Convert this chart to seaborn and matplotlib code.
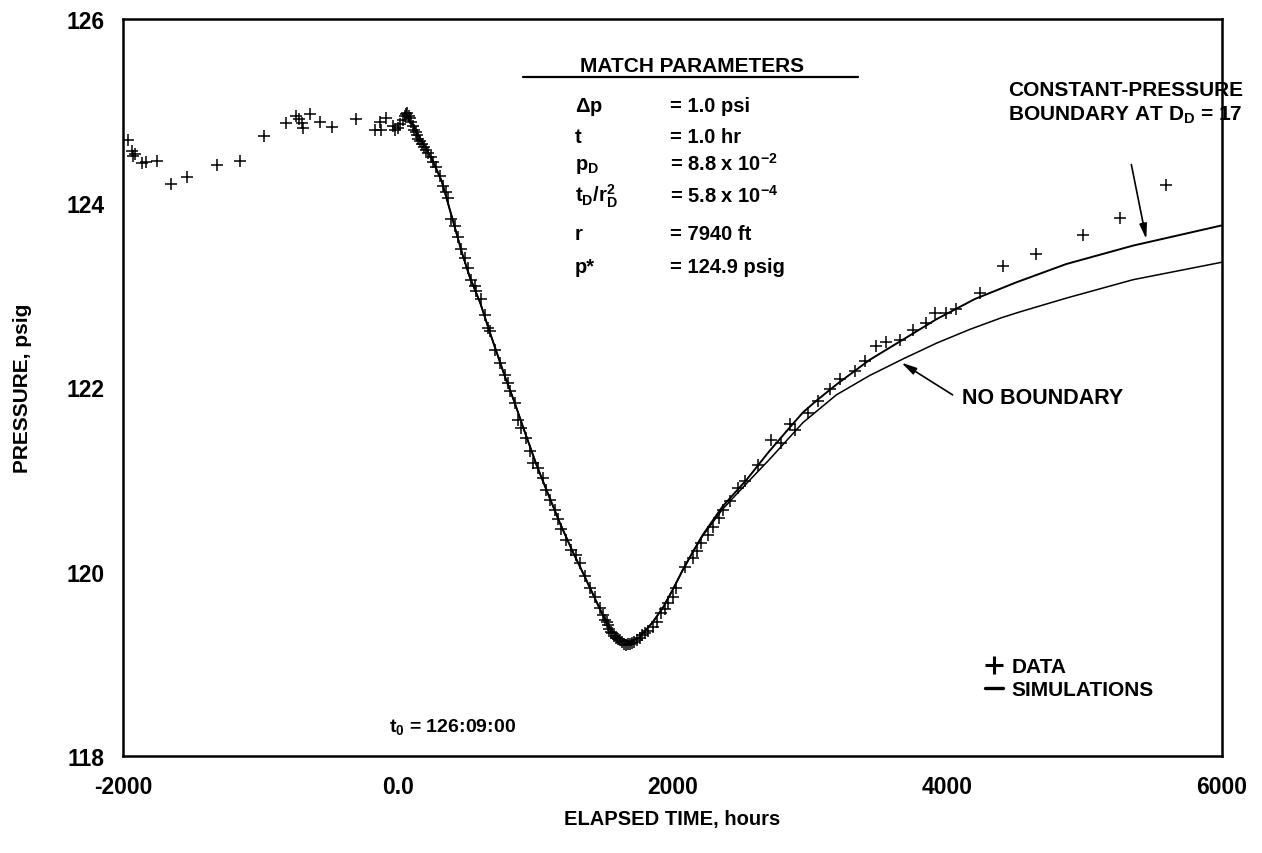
import numpy as np
import pandas as pd
import matplotlib
matplotlib.use("Agg")
import matplotlib.pyplot as plt
import seaborn as sns
from matplotlib.lines import Line2D

# ---------------- data ----------------
data_time = [
    -1967, -1938, -1926, -1914, -1865, -1834, -1756, -1654, -1533, -1315,
    -1145, -975, -810, -742, -721, -689, -695, -640, -563, -475,
    -301, -162, -131, -119, -82, -34, -22,
    5, 20, 35, 50, 60, 70, 80, 90, 100, 110, 120, 130, 140, 150, 160, 175,
    190, 205, 220, 245, 260, 282, 306, 330, 350, 366, 391, 415, 439, 463,
    488, 512, 536, 560, 573, 609, 633, 657, 670, 706, 742, 779, 803, 815,
    852, 876, 900, 937, 961, 985, 1021, 1058, 1082, 1106, 1143, 1167, 1191,
    1228, 1264, 1300, 1325, 1361, 1397, 1434, 1470, 1494,
    1510, 1520, 1530, 1540, 1550, 1560, 1575, 1590, 1600, 1615, 1630, 1645,
    1660, 1675, 1690, 1705, 1720, 1740, 1760, 1780, 1800, 1820,
    1857, 1890, 1919, 1945, 1968, 2000, 2029, 2089, 2150, 2180, 2210, 2260,
    2295, 2340, 2368, 2420, 2478, 2525, 2622, 2720, 2792, 2853, 2889, 2986,
    3059, 3144, 3217, 3326, 3399, 3484, 3556, 3654, 3750, 3848, 3908, 3993,
    4066, 4236, 4406, 4648, 4988, 5255, 5594,
]
data_pressure = [
    124.69, 124.57, 124.51, 124.54, 124.44, 124.45, 124.46, 124.21, 124.29, 124.42,
    124.46, 124.73, 124.87, 124.95, 124.91, 124.82, 124.87, 124.97, 124.88, 124.83,
    124.91, 124.79, 124.88, 124.79, 124.93, 124.84, 124.79,
    124.82, 124.86, 124.90, 124.95, 124.97, 124.98, 124.95, 124.92, 124.88, 124.84,
    124.80, 124.77, 124.74, 124.70, 124.68, 124.64,
    124.61, 124.58, 124.55, 124.50, 124.45, 124.39, 124.30, 124.19, 124.12, 124.06,
    123.83, 123.75, 123.63, 123.50,
    123.41, 123.30, 123.17, 123.10, 123.05, 122.96, 122.79, 122.65, 122.61, 122.41,
    122.27, 122.14, 122.05, 121.96,
    121.83, 121.65, 121.56, 121.45, 121.31, 121.18, 121.13, 121.02, 120.89, 120.78,
    120.67, 120.57, 120.46,
    120.35, 120.24, 120.18, 120.09, 119.95, 119.82, 119.73, 119.61, 119.53,
    119.48, 119.45, 119.42, 119.38, 119.35, 119.33, 119.30, 119.28, 119.27, 119.26,
    119.24, 119.22,
    119.21, 119.22, 119.22, 119.23, 119.24, 119.26, 119.28, 119.31, 119.33, 119.36,
    119.40, 119.45, 119.55, 119.60, 119.66, 119.73, 119.82, 120.05, 120.15, 120.22,
    120.31, 120.40,
    120.49, 120.58, 120.67, 120.77, 120.91, 120.98, 121.16, 121.43, 121.40, 121.60,
    121.54, 121.72,
    121.85, 121.98, 122.09, 122.18, 122.29, 122.45, 122.49, 122.52, 122.62, 122.70,
    122.81, 122.81,
    122.85, 123.03, 123.32, 123.45, 123.66, 123.84, 124.20,
]

# simulation with constant-pressure boundary at D_D = 17
boundary_time = [
    50, 110, 180, 255, 320, 400, 470, 524, 600, 670, 780, 850, 910, 1010,
    1090, 1180, 1270, 1360, 1470, 1545, 1615, 1690, 1760, 1855, 1930, 2000,
    2075, 2150, 2220, 2365, 2540, 2700, 2850, 2950, 3050, 3200, 3435, 3678,
    3920, 4200, 4500, 4866, 5352, 6000,
]
boundary_pressure = [
    124.98, 124.85, 124.66, 124.46, 124.24, 123.82, 123.45, 123.20, 122.92,
    122.60, 122.12, 121.84, 121.58, 121.16, 120.86, 120.53, 120.23, 119.95,
    119.60, 119.38, 119.28, 119.24, 119.29, 119.45, 119.61, 119.80, 120.02,
    120.22, 120.40, 120.71, 121.00, 121.30, 121.56, 121.73, 121.86, 122.04,
    122.30, 122.52, 122.74, 122.96, 123.14, 123.34, 123.54, 123.76,
]

# simulation without boundary
noboundary_time = [
    50, 110, 180, 255, 320, 400, 470, 524, 600, 670, 780, 850, 910, 1010,
    1090, 1180, 1270, 1360, 1470, 1545, 1615, 1690, 1760, 1855, 1930, 2000,
    2075, 2150, 2220, 2365, 2540, 2700, 2804, 2950, 3193, 3435, 3678, 3920,
    4163, 4400, 4527, 4866, 5352, 6000,
]
noboundary_pressure = [
    124.98, 124.85, 124.66, 124.46, 124.24, 123.82, 123.45, 123.20, 122.92,
    122.60, 122.12, 121.84, 121.58, 121.16, 120.86, 120.53, 120.23, 119.95,
    119.60, 119.38, 119.28, 119.24, 119.29, 119.45, 119.61, 119.80, 120.02,
    120.22, 120.39, 120.68, 120.96, 121.21, 121.38, 121.62, 121.92, 122.13,
    122.31, 122.48, 122.63, 122.76, 122.82, 122.97, 123.17, 123.36,
]

x_ticks = [-2000, 0, 2000, 4000, 6000]
x_tick_labels = ["-2000", "0.0", "2000", "4000", "6000"]
y_ticks = [118, 120, 122, 124, 126]
y_tick_labels = ["118", "120", "122", "124", "126"]

param_names = [r"$\Delta$p", "t", r"p$_\mathrm{D}$", r"t$_\mathrm{D}$/r$_\mathrm{D}^\mathrm{2}$", "r", "p*"]
param_values = ["= 1.0 psi", "= 1.0 hr", r"= 8.8 x 10$^\mathrm{-2}$", r"= 5.8 x 10$^\mathrm{-4}$",
                "= 7940 ft", "= 124.9 psig"]

# ---------------- style ----------------
sns.set_style("white")
plt.rcParams["font.family"] = ["Liberation Sans", "DejaVu Sans"]
plt.rcParams["font.weight"] = "bold"
plt.rcParams["text.color"] = "black"
plt.rcParams["axes.labelcolor"] = "black"
plt.rcParams["xtick.color"] = "black"
plt.rcParams["ytick.color"] = "black"
plt.rcParams["mathtext.fontset"] = "custom"
plt.rcParams["mathtext.rm"] = "Liberation Sans:bold"
plt.rcParams["mathtext.it"] = "Liberation Sans:bold"
plt.rcParams["mathtext.bf"] = "Liberation Sans:bold"
plt.rcParams["mathtext.sf"] = "Liberation Sans:bold"
plt.rcParams["mathtext.default"] = "rm"

fig = plt.figure(figsize=(12.62, 8.54), dpi=100)
ax = fig.add_axes([123 / 1262, 1 - 757 / 854, 1099 / 1262, 737 / 854])

df_data = pd.DataFrame({"time": data_time, "pressure": data_pressure})
df_b = pd.DataFrame({"time": boundary_time, "pressure": boundary_pressure})
df_nb = pd.DataFrame({"time": noboundary_time, "pressure": noboundary_pressure})

sns.lineplot(data=df_b, x="time", y="pressure", ax=ax, color="black",
             linewidth=1.4, estimator=None, sort=False)
sns.lineplot(data=df_nb, x="time", y="pressure", ax=ax, color="black",
             linewidth=1.1, estimator=None, sort=False)
sns.scatterplot(data=df_data, x="time", y="pressure", ax=ax, marker="+",
                color="black", s=70, linewidth=1.1, zorder=3)

ax.set_xlim(-2000, 6000)
ax.set_ylim(118, 126)
ax.set_xticks(x_ticks)
ax.set_xticklabels(x_tick_labels)
ax.set_yticks(y_ticks)
ax.set_yticklabels(y_tick_labels)
ax.tick_params(axis="both", direction="in", length=7, width=1.0, color="black",
               labelsize=16.5, labelcolor="black")
ax.tick_params(axis="x", pad=14)
ax.tick_params(axis="y", pad=13)
for lab in ax.get_xticklabels() + ax.get_yticklabels():
    lab.set_fontweight("bold")
for sp in ax.spines.values():
    sp.set_linewidth(1.8)
    sp.set_color("black")

ax.set_xlabel("ELAPSED TIME, hours", fontsize=14.5, fontweight="bold", color="black")
ax.set_ylabel("PRESSURE, psig", fontsize=15, fontweight="bold", color="black")
ax.xaxis.set_label_coords(0.5, -0.072)
ax.yaxis.set_label_coords(-0.083, 0.5)

# ---------------- match parameters box ----------------
ax.text(0.5177, 0.930, "MATCH PARAMETERS", transform=ax.transAxes, ha="center",
        va="baseline", fontsize=15, fontweight="bold")
ax.plot([0.364, 0.669], [0.921, 0.921], transform=ax.transAxes, color="black", lw=1.6)
row_y = [0.875, 0.833, 0.796, 0.752, 0.701, 0.657]
for name, val, yy in zip(param_names, param_values, row_y):
    ax.text(0.411, yy, name, transform=ax.transAxes, ha="left", va="baseline",
            fontsize=14.5, fontweight="bold")
    ax.text(0.498, yy, val, transform=ax.transAxes, ha="left", va="baseline",
            fontsize=14.5, fontweight="bold")

# ---------------- annotations ----------------
arrow = dict(arrowstyle="-|>,head_length=0.9,head_width=0.22", color="black", lw=1.2,
             shrinkA=0, shrinkB=0)
ax.text(1.019, 0.897, "CONSTANT-PRESSURE", transform=ax.transAxes, ha="right",
        va="baseline", fontsize=15, fontweight="bold", clip_on=False)
ax.text(1.019, 0.863, r"BOUNDARY AT D$_\mathrm{D}$ = 17", transform=ax.transAxes, ha="right",
        va="baseline", fontsize=15, fontweight="bold", clip_on=False)
ax.annotate("", xy=(5449, 123.61), xytext=(5340, 124.42), arrowprops=arrow)

ax.text(0.763, 0.479, "NO BOUNDARY", transform=ax.transAxes, ha="left",
        va="baseline", fontsize=15.5, fontweight="bold")
ax.annotate("", xy=(3666, 122.27), xytext=(4039, 121.92), arrowprops=arrow)

ax.text(0.242, 0.034, r"t$_\mathrm{0}$ = 126:09:00", transform=ax.transAxes, ha="left",
        va="baseline", fontsize=14, fontweight="bold")

handles = [
    Line2D([], [], color="black", marker="+", linestyle="none", markersize=13, markeredgewidth=2.2),
    Line2D([], [], color="black", linestyle="-", linewidth=2.4),
]
leg = ax.legend(handles, ["DATA", "SIMULATIONS"], loc="upper left",
                bbox_to_anchor=(0.784, 0.134), frameon=False, handlelength=0.9,
                handletextpad=0.4, labelspacing=0.2, borderaxespad=0, borderpad=0,
                prop={"weight": "bold", "size": 15})

fig.savefig("out.png", dpi=100)
